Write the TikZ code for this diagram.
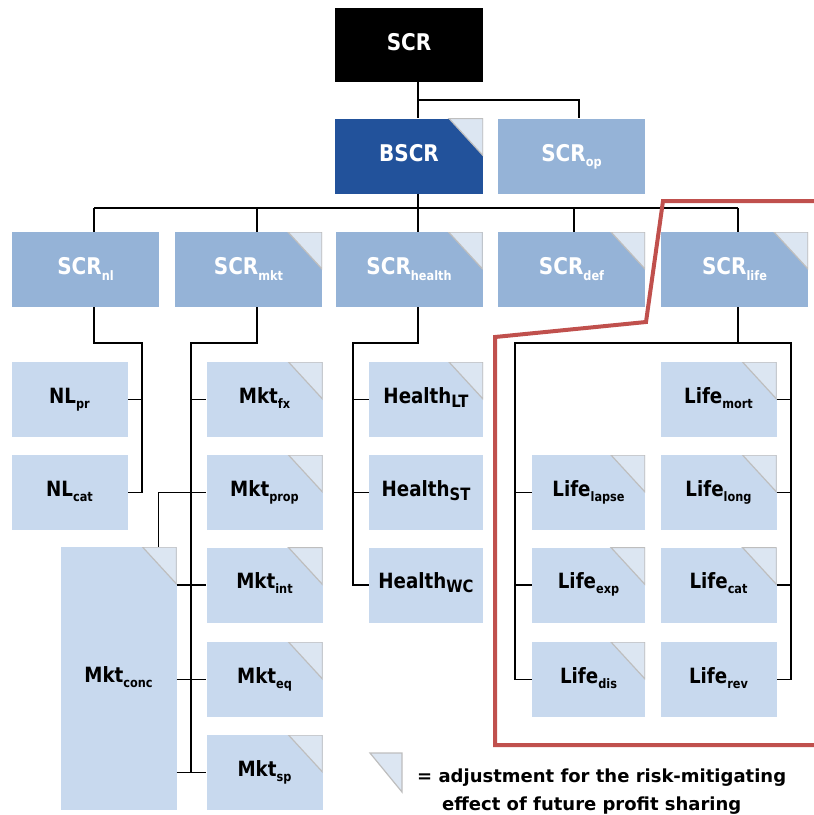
\documentclass[tikz,border=0pt]{standalone}
\usepackage{fontspec}
\setmainfont{DejaVu Sans}[FakeStretch=0.87]
\newfontfamily\keyfont{DejaVu Sans}
\usepackage{tikz}
\definecolor{bigblack}{rgb}{0,0,0}
\definecolor{darkblue}{RGB}{34,82,155}
\definecolor{midblue}{RGB}{149,179,215}
\definecolor{paleblue}{RGB}{200,217,238}
\definecolor{cornerfill}{RGB}{220,230,242}
\definecolor{cornerline}{RGB}{190,190,190}
\definecolor{framered}{RGB}{192,80,77}
\newcommand{\sub}[1]{\raisebox{-0.45ex}{\fontsize{13}{13}\selectfont #1}}
\newcommand{\bigsub}[1]{\raisebox{-0.35ex}{\fontsize{17}{17}\selectfont #1}}
\tikzset{
  box/.style={inner sep=0pt, text height=17pt, text depth=7pt, font=\bfseries\fontsize{23}{23}\selectfont, text=white},
  topbox/.style={box, fill=bigblack, minimum width=148pt, minimum height=74pt},
  riskbox/.style={box, fill=midblue, minimum width=147pt, minimum height=75pt},
  subbox/.style={inner sep=0pt, text height=16pt, text depth=9pt, font=\bfseries\fontsize{21}{21}\selectfont, text=black, fill=paleblue, minimum width=116pt, minimum height=75pt},
  flag/.style={path picture={
      \filldraw[fill=cornerfill, draw=cornerline, line width=1.2pt]
        (path picture bounding box.north east) -- ++(-34pt,0pt) -- ++(34pt,-37pt) -- cycle;}},
  link/.style={line width=1.3pt, black},
  keytext/.style={anchor=base west, inner sep=0pt, font=\keyfont\bfseries\fontsize{18}{18}\selectfont}
}
\begin{document}
\begin{tikzpicture}[x=1pt, y=-1pt]
  \useasboundingbox (0,0) rectangle (814,815);
  % top levels
  \node[topbox] (scr) at (409,45) {SCR};
  \node[riskbox, fill=darkblue, minimum width=148pt, flag] (bscr) at (409,156) {BSCR};
  \node[riskbox] (op) at (571.5,156) {SCR\sub{op}};
  \node[riskbox] (nl) at (85.5,269.5) {SCR\sub{nl}};
  \node[riskbox, flag] (mkt) at (248.5,269.5) {SCR\sub{mkt}};
  \node[riskbox, flag] (health) at (409,269.5) {SCR\sub{health}};
  \node[riskbox, flag] (def) at (571.5,269.5) {SCR\sub{def}};
  \node[riskbox, flag] (life) at (734.5,269.5) {SCR\sub{life}};
  % non-life
  \node[subbox] (nlpr) at (69.5,399.5) {NL\sub{pr}};
  \node[subbox] (nlcat) at (69.5,492.5) {NL\sub{cat}};
  % market
  \node[subbox, flag] (fx) at (264.5,399.5) {Mkt\sub{fx}};
  \node[subbox, flag] (prop) at (264.5,492.5) {Mkt\sub{prop}};
  \node[subbox, flag] (int) at (264.5,585) {Mkt\sub{int}};
  \node[subbox, flag] (eq) at (264.5,679.5) {Mkt\sub{eq}};
  \node[subbox, flag] (sp) at (264.5,772.5) {Mkt\sub{sp}};
  \node[subbox, flag, minimum height=263pt] (conc) at (118.5,678.5) {Mkt\sub{conc}};
  % health
  \node[subbox, flag, minimum width=114pt] (hlt) at (426,399.5) {Health\bigsub{LT}};
  \node[subbox, minimum width=114pt] (hst) at (426,492.5) {Health\bigsub{ST}};
  \node[subbox, minimum width=114pt] (hwc) at (426,585) {Health\bigsub{WC}};
  % life
  \node[subbox, flag] (mort) at (718.5,399.5) {Life\sub{mort}};
  \node[subbox, flag, minimum width=113pt] (lapse) at (588.5,492.5) {Life\sub{lapse}};
  \node[subbox, flag] (long) at (718.5,492.5) {Life\sub{long}};
  \node[subbox, flag, minimum width=113pt] (exp) at (588.5,585) {Life\sub{exp}};
  \node[subbox, flag] (cat) at (718.5,585) {Life\sub{cat}};
  \node[subbox, flag, minimum width=113pt] (dis) at (588.5,679.5) {Life\sub{dis}};
  \node[subbox] (rev) at (718.5,679.5) {Life\sub{rev}};

  % connectors
  \coordinate (topbus) at (418,100);
  \coordinate (busl) at (94,208);
  \coordinate (busr) at (738,208);
  \coordinate (nlbus) at (142,343);
  \coordinate (mktbus) at (191,343);
  \coordinate (hbus) at (353,343);
  \coordinate (lifel) at (515,343);
  \coordinate (lifer) at (791,343);
  \draw[link] ([xshift=9pt]scr.south) -- ([xshift=9pt]bscr.north);
  \draw[link] (topbus) -| ([xshift=7.5pt]op.north);
  \draw[link] ([xshift=9pt]bscr.south) -- ([xshift=9pt]bscr.south |- busl);
  \draw[link] (busl) -- (busr);
  \foreach \n/\s in {nl/8.5, mkt/8.5, health/9, def/2.5, life/3.5}
    \draw[link] ([xshift=\s pt]\n.north) -- ([xshift=\s pt]\n.north |- busl);
  % non-life branch
  \draw[link] ([xshift=8.5pt]nl.south) |- (nlbus) -- (nlbus |- nlcat.east) -- (nlcat.east);
  \draw[link] (nlbus |- nlpr.east) -- (nlpr.east);
  % market branch
  \draw[link] ([xshift=8.5pt]mkt.south) |- (mktbus) -- (mktbus |- sp.west) -- (sp.west);
  \foreach \n in {fx,prop,int,eq}
    \draw[link] (mktbus |- \n.west) -- (\n.west);
  \draw[link] ([xshift=-18pt]conc.north east) |- (prop.west);
  \foreach \n in {int,eq,sp}
    \draw[link] (conc.east |- \n.west) -- (\n.west);
  % health branch
  \draw[link] ([xshift=9pt]health.south) |- (hbus) -- (hbus |- hwc.west) -- (hwc.west);
  \foreach \n in {hlt,hst}
    \draw[link] (hbus |- \n.west) -- (\n.west);
  % life branch
  \draw[link] ([xshift=3.5pt]life.south) -- ([xshift=3.5pt]life.south |- lifel);
  \draw[link] (dis.west) -- (lifel |- dis.west) -- (lifel) -- (lifer) -- (lifer |- rev.east) -- (rev.east);
  \foreach \n in {lapse,exp}
    \draw[link] (lifel |- \n.west) -- (\n.west);
  \foreach \n in {mort,long,cat}
    \draw[link] (\n.east) -- (lifer |- \n.east);

  % life frame
  \draw[framered, line width=4pt] (816,201) -- (663,201) -- (646,322) -- (495,337) -- (495,745) -- (816,745);

  % key
  \coordinate (key) at (370,753);
  \filldraw[fill=cornerfill, draw=cornerline, line width=1.2pt] (key) -- ++(32,0) -- ++(0,39) -- cycle;
  \node[keytext] (keyone) at (417,782) {= adjustment for the risk-mitigating};
  \node[keytext] (keytwo) at (442,810) {effect of future profit sharing};
\end{tikzpicture}
\end{document}
